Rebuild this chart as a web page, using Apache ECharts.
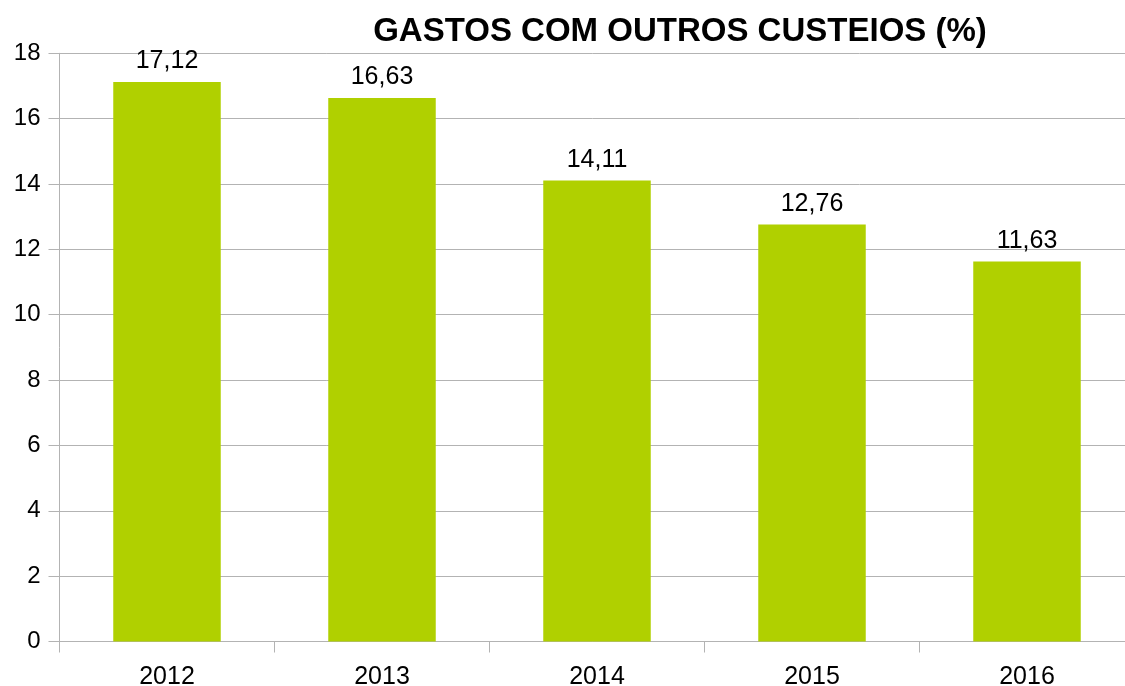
<!DOCTYPE html>
<html><head><meta charset="utf-8">
<script src="https://cdn.jsdelivr.net/npm/echarts@6/dist/echarts.min.js"></script>
<style>html,body{margin:0;padding:0;background:#fff}#c{width:1125px;height:686px}</style>
</head><body><div id="c"></div>
<script>
const categories = ['2012','2013','2014','2015','2016'];
const values = [17.12, 16.63, 14.11, 12.76, 11.63];
const yTicks = {min: 0, max: 18, interval: 2};
const titleText = 'GASTOS COM OUTROS CUSTEIOS (%)';

const chart = echarts.init(document.getElementById('c'));
const font = '"Liberation Sans", Arial, sans-serif';
chart.setOption({
  animation: false,
  title: {text: titleText, left: 675, top: 10, textAlign: 'center',
    textStyle: {fontFamily: font, fontSize: 33, fontWeight: 'bold', color: '#000'}},
  grid: {left: 59.5, right: -9.5, top: 53.3, bottom: 44.5, containLabel: false, outerBoundsMode: 'none'},
  xAxis: {type: 'category', data: categories,
    axisLine: {lineStyle: {color: '#b3b3b3', width: 1}},
    axisTick: {show: true, length: 11, lineStyle: {color: '#b3b3b3'}},
    axisLabel: {fontFamily: font, fontSize: 25, color: '#000', margin: 23}},
  yAxis: {type: 'value', min: yTicks.min, max: yTicks.max, interval: yTicks.interval,
    axisLine: {show: true, lineStyle: {color: '#b3b3b3'}},
    axisTick: {show: true, length: 11, lineStyle: {color: '#b3b3b3'}},
    splitLine: {lineStyle: {color: '#b3b3b3'}},
    axisLabel: {fontFamily: font, fontSize: 24, color: '#000', margin: 19}},
  series: [{type: 'bar', data: values, barWidth: '50%',
    itemStyle: {color: '#b0d000'},
    label: {show: true, position: 'top', distance: 8, fontFamily: font, fontSize: 25, color: '#000',
      formatter: p => p.value.toFixed(2).replace('.', ',')}}]
});
</script></body></html>
